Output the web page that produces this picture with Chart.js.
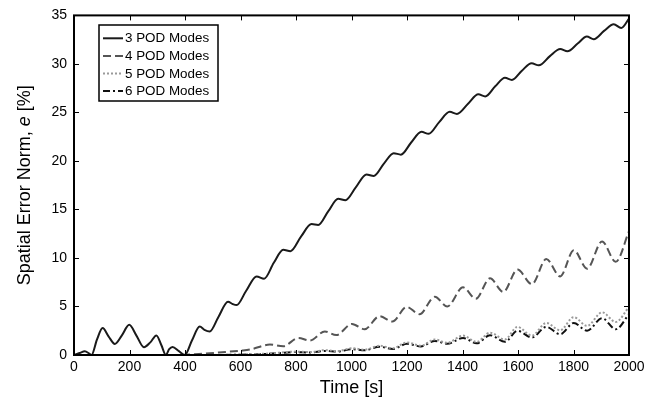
<!DOCTYPE html>
<html>
<head>
<meta charset="utf-8">
<script src="https://cdn.jsdelivr.net/npm/chart.js@4.4.1/dist/chart.umd.min.js"></script>
<style>
  html, body { margin: 0; padding: 0; background: #fff; }
  #wrap { width: 660px; height: 399px; }
</style>
</head>
<body>
<div id="wrap"><canvas id="chart" width="660" height="399"></canvas></div>
<script>
// Datos (tiempo en s, error en %)
const labels3 = ['3 POD Modes', '4 POD Modes', '5 POD Modes', '6 POD Modes'];

const t3 = [0, 20, 39, 55, 63, 83, 103, 125, 147, 172, 199, 225, 252, 275, 297, 315, 331, 343, 355, 378, 399,
  425, 453, 470, 489, 520, 555, 572, 586, 620, 658, 685, 720, 754, 780, 818, 856, 880, 916, 952, 978, 1016,
  1054, 1080, 1116, 1152, 1178, 1215, 1252, 1278, 1316, 1354, 1380, 1420, 1457, 1482, 1518, 1553, 1578, 1614,
  1649, 1675, 1715, 1752, 1778, 1815, 1848, 1873, 1910, 1945, 1972, 2000];
const e3 = [0, 0.2, 0.39, 0.15, 0, 1.6, 2.77, 1.9, 1.14, 2.0, 3.11, 2.0, 0.8, 1.3, 2.02, 1.0, 0, 0.6, 0.83, 0.4, 0,
  1.5, 2.94, 2.6, 2.43, 3.9, 5.49, 5.25, 5.15, 6.6, 8.1, 7.85, 9.5, 10.84, 10.7, 12.2, 13.49, 13.4, 14.8, 16.1, 15.95, 17.3,
  18.6, 18.45, 19.7, 20.8, 20.65, 21.9, 23.0, 22.8, 24.0, 25.07, 24.85, 25.9, 26.87, 26.65, 27.7, 28.57, 28.35, 29.3,
  30.07, 29.85, 30.8, 31.53, 31.3, 32.1, 32.82, 32.55, 33.4, 34.08, 33.7, 34.66];

const t4 = [0, 380, 450, 520, 600, 634, 706, 754, 808, 850, 904, 945, 1002, 1047, 1101, 1147, 1199, 1245,
  1300, 1345, 1402, 1448, 1499, 1547, 1598, 1650, 1702, 1752, 1801, 1849, 1903, 1952, 2000];
const e4 = [0, 0, 0.1, 0.25, 0.45, 0.56, 1.07, 0.9, 1.75, 1.5, 2.43, 2.05, 3.2, 2.65, 4.0, 3.45, 4.95, 4.2,
  6.0, 5.0, 6.97, 5.8, 7.9, 6.5, 8.8, 7.3, 9.9, 8.1, 10.8, 8.9, 11.7, 9.6, 12.75];

const t5 = [0, 500, 600, 700, 800, 850, 904, 950, 1002, 1047, 1101, 1149, 1200, 1250, 1300, 1345, 1402, 1451,
  1499, 1553, 1598, 1650, 1702, 1752, 1801, 1849, 1903, 1952, 2000];
const e5 = [0, 0, 0.05, 0.15, 0.35, 0.3, 0.5, 0.4, 0.7, 0.55, 0.95, 0.7, 1.3, 0.95, 1.6, 1.25, 2.0, 1.35,
  2.3, 1.6, 2.9, 2.0, 3.3, 2.55, 3.9, 3.0, 4.4, 3.4, 4.95];

const t6 = [0, 500, 600, 700, 800, 850, 904, 950, 1002, 1047, 1101, 1149, 1200, 1250, 1300, 1345, 1402, 1451,
  1499, 1553, 1598, 1650, 1702, 1752, 1801, 1849, 1903, 1952, 2000];
const e6 = [0, 0, 0.03, 0.12, 0.3, 0.25, 0.42, 0.35, 0.6, 0.48, 0.85, 0.62, 1.15, 0.88, 1.45, 1.15, 1.75, 1.2,
  2.04, 1.36, 2.5, 1.8, 2.9, 2.14, 3.3, 2.5, 3.8, 2.65, 4.2];

const xTicks = [0, 200, 400, 600, 800, 1000, 1200, 1400, 1600, 1800, 2000];
const yTicks = [0, 5, 10, 15, 20, 25, 30, 35];

const FONT = '"Liberation Sans", Arial, Helvetica, sans-serif';

const toPts = (ts, es) => ts.map((t, i) => ({ x: t, y: es[i] }));

const mkSet = (label, ts, es, color, dash, width) => ({
  label: label,
  data: toPts(ts, es),
  borderColor: color,
  borderWidth: width,
  borderDash: dash,
  pointRadius: 0,
  fill: false,
  cubicInterpolationMode: 'monotone'
});

// Marco con marcas hacia adentro en los cuatro lados
const framePlugin = {
  id: 'frame',
  afterDatasetsDraw(chart) {
    const { ctx, chartArea: a, scales: { x, y } } = chart;
    ctx.save();
    ctx.strokeStyle = '#000';
    ctx.lineWidth = 1;
    ctx.beginPath();
    xTicks.forEach(v => {
      const px = Math.round(x.getPixelForValue(v)) + 0.5;
      ctx.moveTo(px, a.bottom); ctx.lineTo(px, a.bottom - 5);
      ctx.moveTo(px, a.top); ctx.lineTo(px, a.top + 5);
    });
    yTicks.forEach(v => {
      const py = Math.round(y.getPixelForValue(v)) + 0.5;
      ctx.moveTo(a.left, py); ctx.lineTo(a.left + 5, py);
      ctx.moveTo(a.right, py); ctx.lineTo(a.right - 5, py);
    });
    ctx.stroke();
    ctx.lineWidth = 2;
    ctx.strokeRect(a.left, a.top, a.right - a.left, a.bottom - a.top);
    ctx.restore();
  },
  afterDraw(chart) {
    const { ctx, chartArea: a } = chart;
    // Título del eje Y con la "e" en cursiva
    ctx.save();
    ctx.translate(25, (a.top + a.bottom) / 2);
    ctx.rotate(-Math.PI / 2);
    ctx.fillStyle = '#000';
    ctx.textBaseline = 'middle';
    const parts = [
      ['Spatial Error Norm, ', '18px ' + FONT],
      ['e', 'italic 18px ' + FONT],
      [' [%]', '18px ' + FONT]
    ];
    let total = 0;
    parts.forEach(p => { ctx.font = p[1]; total += ctx.measureText(p[0]).width; });
    let cx = -total / 2;
    parts.forEach(p => {
      ctx.font = p[1];
      ctx.fillText(p[0], cx, 0);
      cx += ctx.measureText(p[0]).width;
    });
    ctx.restore();

    // Leyenda dentro del área
    ctx.save();
    const bx = 99, by = 25, bw = 119, bh = 76;
    ctx.fillStyle = '#fff';
    ctx.fillRect(bx, by, bw, bh);
    ctx.strokeStyle = '#000';
    ctx.lineWidth = 1.5;
    ctx.strokeRect(bx, by, bw, bh);
    ctx.font = '13.4px ' + FONT;
    ctx.textBaseline = 'middle';
    chart.data.datasets.forEach((ds, i) => {
      const ry = 38.3 + i * 17.6;
      ctx.strokeStyle = ds.borderColor;
      ctx.lineWidth = ds.borderWidth;
      ctx.setLineDash(ds.borderDash);
      ctx.beginPath();
      ctx.moveTo(103, ry); ctx.lineTo(123, ry);
      ctx.stroke();
      ctx.setLineDash([]);
      ctx.fillStyle = '#000';
      ctx.fillText(ds.label, 125, ry + 0.5);
    });
    ctx.restore();
  }
};

new Chart(document.getElementById('chart'), {
  type: 'line',
  data: {
    datasets: [
      mkSet(labels3[0], t3, e3, '#1a1a1a', [], 2),
      mkSet(labels3[1], t4, e4, '#555555', [8, 4], 2),
      mkSet(labels3[2], t5, e5, '#9a9a9a', [2, 2], 2),
      mkSet(labels3[3], t6, e6, '#111111', [7, 3, 2, 3], 2)
    ]
  },
  options: {
    responsive: false,
    animation: false,
    devicePixelRatio: 1,
    layout: { padding: { left: 0, right: 31, top: 13, bottom: 0 } },
    plugins: { legend: { display: false }, tooltip: { enabled: false } },
    scales: {
      x: {
        type: 'linear',
        min: 0, max: 2000,
        grid: { display: false, drawTicks: false },
        border: { display: false },
        afterBuildTicks: s => { s.ticks = xTicks.map(v => ({ value: v })); },
        afterFit: s => { s.height = 44; },
        ticks: { color: '#000', font: { family: FONT, size: 14 }, padding: 4, maxRotation: 0, callback: v => String(v) },
        title: { display: true, text: 'Time [s]', color: '#000', font: { family: FONT, size: 18 }, padding: { top: 0, bottom: 0 } }
      },
      y: {
        min: 0, max: 35,
        grid: { display: false, drawTicks: false },
        border: { display: false },
        afterBuildTicks: s => { s.ticks = yTicks.map(v => ({ value: v })); },
        afterFit: s => { s.width = 74; },
        ticks: { color: '#000', font: { family: FONT, size: 14 }, padding: 7, callback: v => String(v) }
      }
    }
  },
  plugins: [framePlugin]
});
</script>
</body>
</html>
